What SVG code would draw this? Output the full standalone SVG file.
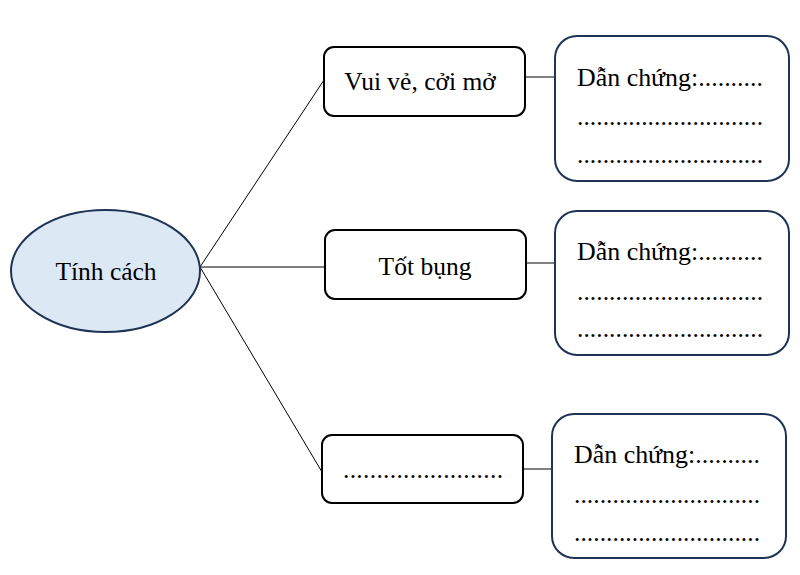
<svg xmlns="http://www.w3.org/2000/svg" width="800" height="575" viewBox="0 0 800 575">
<style>
text{font-family:"Liberation Serif","Times New Roman",serif;font-size:25.5px;fill:#000}
.sb{fill:#fff;stroke:#000;stroke-width:2}
.lb{fill:#fff;stroke:#1f3356;stroke-width:2}
.c{stroke:#000;stroke-width:1;fill:none}
</style>
<rect width="800" height="575" fill="#fff"/>
<g id="connectors">
<line class="c" x1="200" y1="267" x2="324" y2="80"/>
<line class="c" x1="200" y1="267" x2="325" y2="267"/>
<line class="c" x1="200" y1="267" x2="322" y2="472"/>
<line class="c" x1="525" y1="77" x2="555" y2="77"/>
<line class="c" x1="526" y1="263" x2="555" y2="263"/>
<line class="c" x1="523" y1="469" x2="552" y2="469"/>
</g>
<g id="root">
<ellipse cx="105.5" cy="271" rx="94.5" ry="61" fill="#dde8f5" stroke="#1f3356" stroke-width="2"/>
<text x="106" y="280" text-anchor="middle">Tính cách</text>
</g>
<g id="trait1">
<rect class="sb" x="324" y="47" width="201" height="69" rx="10"/>
<text x="420" y="90" text-anchor="middle">Vui vẻ, cởi mở</text>
</g>
<g id="trait2">
<rect class="sb" x="325" y="230" width="201" height="69" rx="10"/>
<text x="425" y="275" text-anchor="middle">Tốt bụng</text>
</g>
<g id="trait3">
<rect class="sb" x="322" y="435" width="201" height="68" rx="10"/>
<text x="343" y="478" textLength="160" lengthAdjust="spacing">........................</text>
</g>
<g id="evidence1">
<rect class="lb" x="555" y="36" width="234" height="145" rx="22"/>
<text x="577" y="86" textLength="186" lengthAdjust="spacingAndGlyphs">Dẫn chứng:..........</text>
<text x="577" y="125" textLength="186" lengthAdjust="spacing">.............................</text>
<text x="577" y="163" textLength="186" lengthAdjust="spacing">.............................</text>
</g>
<g id="evidence2">
<rect class="lb" x="555" y="211" width="234" height="144" rx="22"/>
<text x="577" y="260" textLength="186" lengthAdjust="spacingAndGlyphs">Dẫn chứng:..........</text>
<text x="577" y="300" textLength="186" lengthAdjust="spacing">.............................</text>
<text x="577" y="337" textLength="186" lengthAdjust="spacing">.............................</text>
</g>
<g id="evidence3">
<rect class="lb" x="552" y="414" width="234" height="144" rx="22"/>
<text x="574" y="463" textLength="186" lengthAdjust="spacingAndGlyphs">Dẫn chứng:..........</text>
<text x="574" y="503" textLength="186" lengthAdjust="spacing">.............................</text>
<text x="574" y="541" textLength="186" lengthAdjust="spacing">.............................</text>
</g>
</svg>
